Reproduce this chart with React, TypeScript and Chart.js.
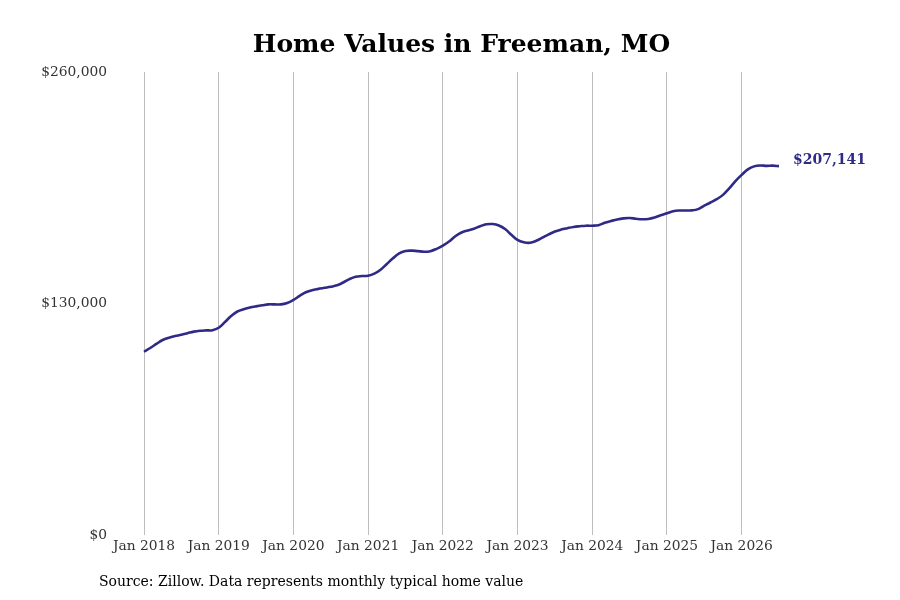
import { Chart, registerables } from "chart.js";
import React, { useEffect, useRef } from "react";

Chart.register(...registerables);

// monthly typical home value, Jan 2018 .. Jul 2026
const startYear = 2018;
const homeValues = [
  102900, 105000, 107300, 109500, 110800, 111700, 112400, 113300, 114200, 114700, 114900, 115000,
  116400, 119600, 123000, 125500, 126800, 127700, 128400, 129000, 129500, 129500, 129500, 130300,
  132000, 134300, 136300, 137500, 138200, 138800, 139400, 140200, 141800, 143700, 145000, 145400,
  145600, 146800, 149000, 152200, 155400, 158200, 159500, 159700, 159400, 159100, 159400, 160700,
  162500, 164800, 167800, 169900, 171000, 172000, 173400, 174500, 174600, 173800, 171800, 168600,
  165700, 164400, 164100, 165200, 167000, 168800, 170400, 171500, 172300, 173000, 173400, 173700,
  173700, 174000, 175300, 176300, 177200, 177800, 178000, 177600, 177300, 177500, 178300, 179600,
  180700, 181800, 182200, 182200, 182300, 183000, 185000, 186700, 188600, 191000, 194600, 198700,
  202200, 205300, 207000, 207500, 207300, 207400, 207141,
];
const yTicks = [0, 130000, 260000];
const monthNames = ["Jan", "Feb", "Mar", "Apr", "May", "Jun", "Jul", "Aug", "Sep", "Oct", "Nov", "Dec"];
const monthLabels = homeValues.map(
  (_, i) => `${monthNames[i % 12]} ${startYear + Math.floor(i / 12)}`
);

const titleText = "Home Values in Freeman, MO";
const sourceText = "Source: Zillow. Data represents monthly typical home value";
const lineColour = "#2e2a86";
const fontFamily = "'DejaVu Serif', serif";

const fmt = (v: number) => "$" + v.toLocaleString("en-US");

const App: React.FC = () => {
  const chartRef = useRef<HTMLCanvasElement | null>(null);
  const chartInstance = useRef<Chart | null>(null);

  useEffect(() => {
    document.body.style.margin = "0";
    if (chartInstance.current) {
      chartInstance.current.destroy();
    }

    // title, source note and the end value label
    const textPlugin = {
      id: "textPlugin",
      afterDraw(chart: any) {
        const { ctx, chartArea } = chart;
        ctx.save();
        ctx.fillStyle = "#000";
        ctx.textAlign = "center";
        ctx.textBaseline = "middle";
        ctx.font = `bold 25px ${fontFamily}`;
        ctx.fillText(titleText, (chartArea.left + chartArea.right) / 2, 45);

        ctx.textAlign = "left";
        ctx.font = `14px ${fontFamily}`;
        ctx.fillText(sourceText, 99, 582);

        const meta = chart.getDatasetMeta(0);
        const last = meta.data[meta.data.length - 1];
        ctx.fillStyle = lineColour;
        ctx.font = `bold 14px ${fontFamily}`;
        ctx.fillText(fmt(homeValues[homeValues.length - 1]), last.x + 14, last.y - 6);
        ctx.restore();
      },
    };

    const config: any = {
      type: "line",
      data: {
        labels: monthLabels,
        datasets: [
          {
            data: homeValues,
            borderColor: lineColour,
            borderWidth: 2.6,
            pointRadius: 0,
            tension: 0.4,
            fill: false,
          },
        ],
      },
      options: {
        animation: false,
        responsive: true,
        maintainAspectRatio: false,
        layout: { padding: { top: 72, right: 121, left: 0, bottom: 0 } },
        plugins: {
          legend: { display: false },
          tooltip: { enabled: false },
          title: { display: false },
        },
        scales: {
          x: {
            offset: false,
            afterFit: (axis: any) => {
              axis.height = 65;
            },
            border: { display: false },
            grid: {
              drawTicks: false,
              color: (c: any) => (c.index % 12 === 0 ? "#bdbdbd" : "rgba(0,0,0,0)"),
              lineWidth: 1,
            },
            ticks: {
              autoSkip: false,
              maxRotation: 0,
              minRotation: 0,
              padding: 3,
              color: "#333",
              font: { family: fontFamily, size: 13.8 },
              callback: (_: any, i: number) => (i % 12 === 0 ? monthLabels[i] : ""),
            },
          },
          y: {
            min: yTicks[0],
            max: yTicks[yTicks.length - 1],
            afterFit: (axis: any) => {
              axis.width = 144;
            },
            afterBuildTicks: (axis: any) => {
              axis.ticks = yTicks.map((v) => ({ value: v }));
            },
            border: { display: false },
            grid: { display: false, drawTicks: false },
            ticks: {
              padding: 37,
              color: "#333",
              font: { family: fontFamily, size: 13.8 },
              callback: (v: number) => fmt(v),
            },
          },
        },
      },
      plugins: [textPlugin],
    };

    if (chartRef.current) {
      chartInstance.current = new Chart(chartRef.current, config);
    }

    return () => {
      if (chartInstance.current) {
        chartInstance.current.destroy();
      }
    };
  }, []);

  return (
    <div style={{ width: 900, height: 600, position: "relative" }}>
      <canvas ref={chartRef}></canvas>
    </div>
  );
};

export default App;
